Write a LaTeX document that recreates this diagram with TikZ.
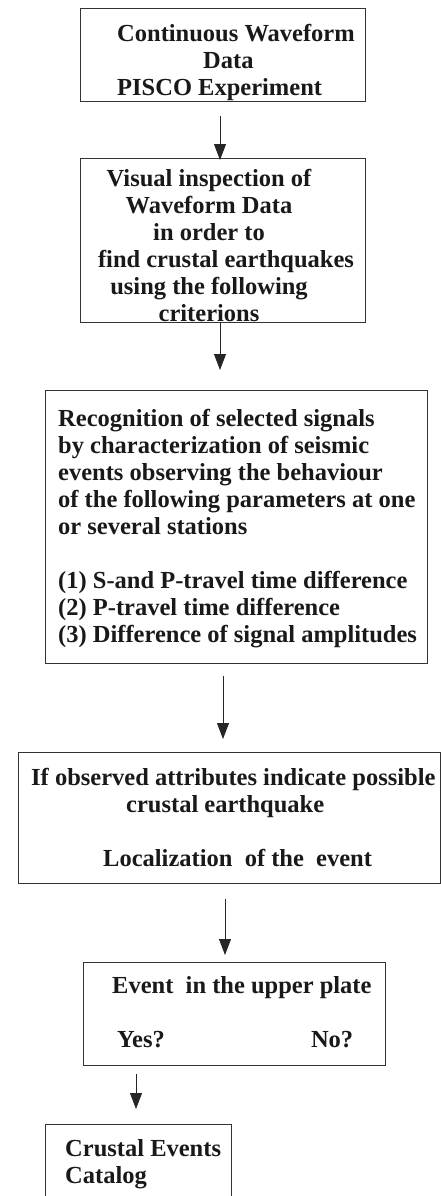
\documentclass[tikz,border=0pt]{standalone}
\usepackage{fontspec}
\setmainfont{Liberation Serif}
\usetikzlibrary{arrows.meta}

\begin{document}
\begin{tikzpicture}[x=1pt,y=-1pt,
    box/.style={draw=black!80, line width=0.8pt, inner sep=0pt, anchor=north west},
    txt/.style={font=\bfseries\fontsize{24.5}{27}\selectfont, inner sep=0pt, text=black!90},
    flow/.style={draw=black!85, line width=0.8pt, -{Triangle[length=16pt,width=12pt]}}]

    \useasboundingbox (0,0) rectangle (441,1196);
    \clip (0,0) rectangle (441,1196);

    % boxes
    \node[box, minimum width=285, minimum height=93] (waveform) at (80,8) {};
    \node[box, minimum width=285, minimum height=164] (inspect) at (80,158) {};
    \node[box, minimum width=382, minimum height=273] (recog) at (45,390) {};
    \node[box, minimum width=422, minimum height=131] (local) at (18,752) {};
    \node[box, minimum width=302, minimum height=103] (plate) at (83,962) {};
    \node[box, minimum width=186, minimum height=95] (catalog) at (45,1124) {};

    % texts
    \node[txt, align=left, anchor=west] (waveformtxt) at (117,62)
      {Continuous Waveform\\\hspace*{86pt}Data\\PISCO Experiment};
    \node[txt, align=center] (inspecttxt) at (209,245)
      {Visual inspection of\\Waveform Data\\in order to\\
       \hspace*{34pt}find crustal earthquakes\\using the following\\criterions};
    \node[txt, align=left, anchor=west] (recogtxt) at (58,529)
      {Recognition of selected signals\\by characterization of seismic\\
       events observing the behaviour\\of the following parameters at one\\
       or several stations\\[27pt]
       (1) S-and P-travel time difference\\(2) P-travel time difference\\
       (3) Difference of signal amplitudes};
    \node[txt, align=left, anchor=west] (localtxt) at (31,817)
      {If observed attributes indicate possible\\\hspace*{95pt}crustal earthquake\\[27pt]
       \hspace*{72pt}Localization\ \ of the\ \ event};
    \node[txt, align=left, anchor=west] (platetxt) at (112,1012)
      {Event\ \ in the upper plate\\[27pt]\hspace*{5pt}\makebox[236pt][l]{Yes?\hfill No?}};
    \node[txt, align=left, anchor=west] (catalogtxt) at (65,1164)
      {Crustal Events\\Catalog};

    % arrows
    \coordinate (a1) at (220,0);
    \coordinate (a3) at (223,0);
    \coordinate (a4) at (225,0);
    \coordinate (a5) at (136,0);
    \draw[flow, shorten <=14pt, shorten >=-2pt] (waveform.south -| a1) -- (inspect.north -| a1);
    \draw[flow, shorten >=20pt] (inspect.south -| a1) -- (recog.north -| a1);
    \draw[flow, shorten <=12pt, shorten >=13pt] (recog.south -| a3) -- (local.north -| a3);
    \draw[flow, shorten <=15pt, shorten >=7pt] (local.south -| a4) -- (plate.north -| a4);
    \draw[flow, shorten <=8pt, shorten >=15pt] (plate.south -| a5) -- (catalog.north -| a5);
  \end{tikzpicture}
\end{document}
